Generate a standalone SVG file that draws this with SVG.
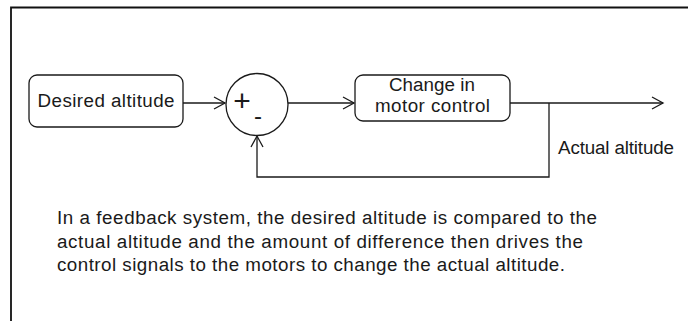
<svg xmlns="http://www.w3.org/2000/svg" width="688" height="321" viewBox="0 0 688 321">
<defs>
<style>
.ln{fill:none;stroke:#1a1a1a;stroke-width:1.3}
.box{fill:#fff;stroke:#1a1a1a;stroke-width:1.3}
.t{font-family:"Liberation Sans",Arial,sans-serif;font-size:18.8px;fill:#1a1a1a}
</style>
<marker id="ah" markerWidth="14" markerHeight="14" refX="12" refY="7" orient="auto" markerUnits="userSpaceOnUse">
<path d="M1,1 L12,7 L1,13" fill="none" stroke="#1a1a1a" stroke-width="1.3"/>
</marker>
</defs>
<rect width="688" height="321" fill="#fff"/>
<path d="M11,330 V7.5 H700" fill="none" stroke="#111" stroke-width="1.8"/>
<g id="connectors">
<path class="ln" d="M183,103 H225" marker-end="url(#ah)"/>
<path class="ln" d="M288,103 H354" marker-end="url(#ah)"/>
<path class="ln" d="M510,103 H663" marker-end="url(#ah)"/>
<path class="ln" d="M549,103 V177 H257 V136" marker-end="url(#ah)"/>
</g>
<g id="desired">
<rect class="box" x="29" y="75" width="154" height="52" rx="8"/>
<text class="t" x="106" y="106.5" text-anchor="middle" textLength="137">Desired altitude</text>
</g>
<g id="sum">
<circle class="box" cx="257" cy="104.5" r="31"/>
<text class="t" x="242" y="111" text-anchor="middle" style="font-size:30px">+</text>
<text class="t" x="258" y="124" text-anchor="middle" style="font-size:24px">-</text>
</g>
<g id="motor">
<rect class="box" x="355" y="75" width="155" height="46" rx="8"/>
<text class="t" x="432" y="91" text-anchor="middle" textLength="86">Change in</text>
<text class="t" x="432.5" y="111.5" text-anchor="middle" textLength="115">motor control</text>
</g>
<g id="label">
<text class="t" x="558" y="154" textLength="116">Actual altitude</text>
</g>
<g id="caption">
<text class="t" x="57" y="224" textLength="540">In a feedback system, the desired altitude is compared to the</text>
<text class="t" x="57" y="247.5" textLength="526">actual altitude and the amount of difference then drives the</text>
<text class="t" x="57" y="271" textLength="508">control signals to the motors to change the actual altitude.</text>
</g>
</svg>
